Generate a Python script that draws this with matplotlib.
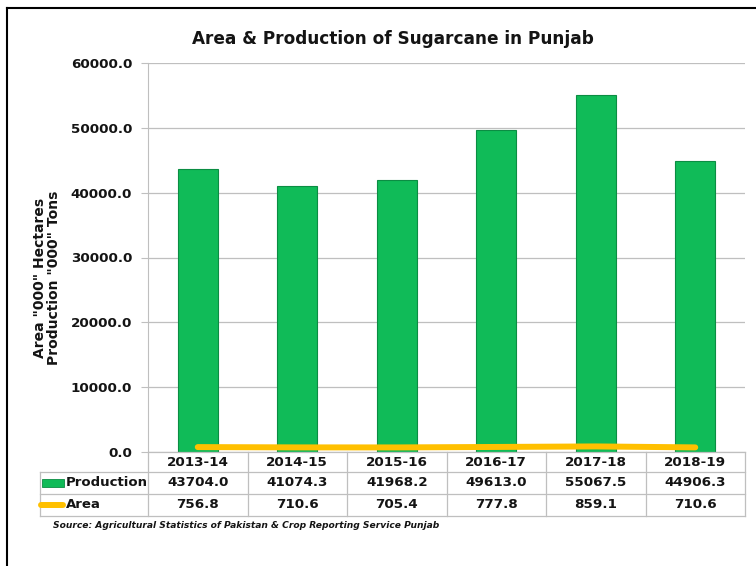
import matplotlib.pyplot as plt
from matplotlib.lines import Line2D
import numpy as np

years = ['2013-14', '2014-15', '2015-16', '2016-17', '2017-18', '2018-19']
production = [43704.0, 41074.3, 41968.2, 49613.0, 55067.5, 44906.3]
area = [756.8, 710.6, 705.4, 777.8, 859.1, 710.6]
yticks = [0, 10000, 20000, 30000, 40000, 50000, 60000]

green = '#10bb58'
yellow = '#ffc000'
grid_c = '#bfbfbf'
txt_c = '#141414'

W, H = 756, 566
fig = plt.figure(figsize=(W / 100, H / 100), dpi=100)

# plot box in pixel terms
x0, x1 = 148, 745
y0, y1 = 452, 63
ax = fig.add_axes([x0 / W, 1 - y0 / H, (x1 - x0) / W, (y0 - y1) / H])

x = np.arange(len(years))
ax.bar(x, production, width=0.4, color=green, edgecolor='#0b8d43', linewidth=0.8, zorder=2)
ax.plot(x, area, color=yellow, linewidth=4.3, solid_capstyle='round', zorder=3)

ax.set_xlim(-0.5, len(years) - 0.5)
ax.set_ylim(0, 60000)
ax.set_yticks(yticks)
ax.set_yticklabels([f'{v:.1f}' for v in yticks], fontsize=9.7, fontweight='bold', color=txt_c)
ax.set_xticks([])
ax.tick_params(axis='y', length=5, width=0.8, color=grid_c, pad=6.5)
ax.yaxis.grid(True, color=grid_c, linewidth=0.9, zorder=0)
for s in ['top', 'right', 'bottom']:
    ax.spines[s].set_visible(False)
ax.spines['left'].set_color(grid_c)

ax.set_title('Area & Production of Sugarcane in Punjab', fontsize=12.2, fontweight='bold',
             color=txt_c, pad=14, x=0.41)

fig.text(47 / W, 1 - 278 / H, 'Area "000" Hectares\nProduction "000" Tons', rotation=90,
         ha='center', va='center', fontsize=10, fontweight='bold', color=txt_c, linespacing=1.0)

# data table under the axis
def fy(py):
    return 1 - py / H

def fx(px):
    return px / W

col_w = (x1 - x0) / len(years)
rows = [452, 472, 494, 516]
lines = []
lines.append(Line2D([fx(x0), fx(x1)], [fy(rows[0])] * 2, color=grid_c, lw=0.9))
for r in rows[1:]:
    lines.append(Line2D([fx(40), fx(x1)], [fy(r)] * 2, color=grid_c, lw=0.9))
for i in range(len(years) + 1):
    px = x0 + i * col_w
    lines.append(Line2D([fx(px)] * 2, [fy(rows[0]), fy(rows[3])], color=grid_c, lw=0.9))
lines.append(Line2D([fx(40)] * 2, [fy(rows[1]), fy(rows[3])], color=grid_c, lw=0.9))

for i, (yr, p, a) in enumerate(zip(years, production, area)):
    cx = fx(x0 + (i + 0.5) * col_w)
    fig.text(cx, fy((rows[0] + rows[1]) / 2), yr, ha='center', va='center',
             fontsize=9.7, fontweight='bold', color=txt_c)
    fig.text(cx, fy((rows[1] + rows[2]) / 2), f'{p:.1f}', ha='center', va='center',
             fontsize=9.7, fontweight='bold', color=txt_c)
    fig.text(cx, fy((rows[2] + rows[3]) / 2), f'{a:.1f}', ha='center', va='center',
             fontsize=9.7, fontweight='bold', color=txt_c)

# legend keys inside the table
fig.patches.append(plt.Rectangle((fx(42), fy(487)), fx(22), 8 / H, transform=fig.transFigure,
                                 facecolor=green, edgecolor='#0b8d43', lw=0.6))
lines.append(Line2D([fx(41), fx(63)], [fy(505)] * 2, color=yellow, lw=4.3, solid_capstyle='round'))
fig.text(fx(66), fy(483), 'Production', ha='left', va='center', fontsize=9.5,
         fontweight='bold', color=txt_c)
fig.text(fx(66), fy(505), 'Area', ha='left', va='center', fontsize=9.5,
         fontweight='bold', color=txt_c)

fig.text(fx(53), fy(525), 'Source: Agricultural Statistics of Pakistan & Crop Reporting Service Punjab',
         ha='left', va='center', fontsize=6.6, fontweight='bold', style='italic', color=txt_c)

# outer frame (left and top edges)
lines.append(Line2D([fx(7), fx(7)], [fy(8), 0], color='black', lw=1.5))
lines.append(Line2D([fx(7), 1], [fy(8), fy(8)], color='black', lw=1.5))

for ln in lines:
    ln.set_transform(fig.transFigure)
    fig.lines.append(ln)

fig.savefig('out.png', dpi=100, facecolor='white')
